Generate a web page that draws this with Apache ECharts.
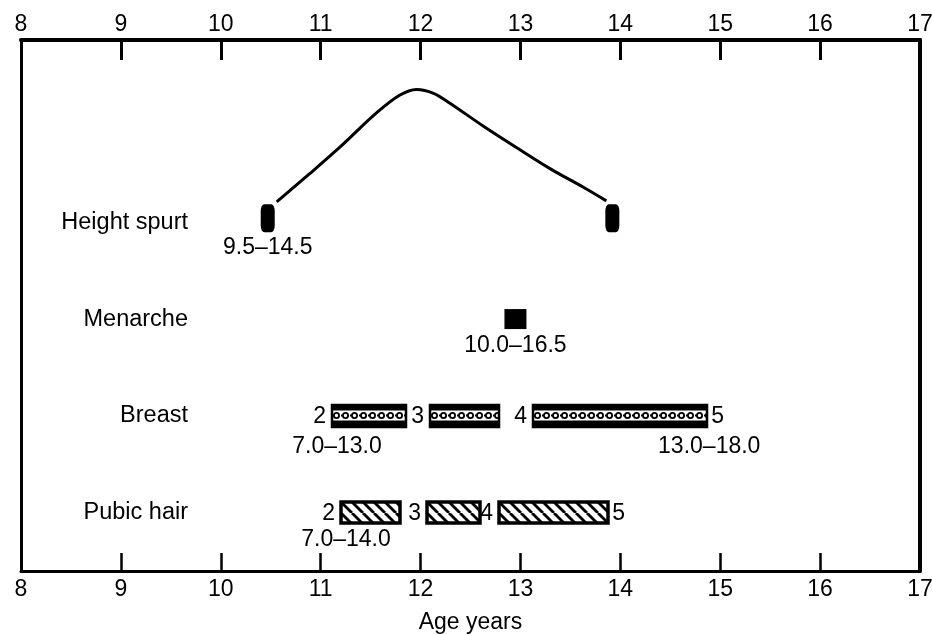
<!DOCTYPE html>
<html>
<head>
<meta charset="utf-8">
<script src="https://cdn.jsdelivr.net/npm/echarts@6/dist/echarts.min.js"></script>
<style>
html,body{margin:0;padding:0;background:#fff;}
#chart{width:932px;height:635px;}
</style>
</head>
<body>
<div id="chart"></div>
<script>
// ---------- data ----------
const xMin = 8, xMax = 17, xInterval = 1;           // age axis (years)
const axisTitle = 'Age years';
const rowNames = ['Pubic hair', 'Breast', 'Menarche', 'Height spurt']; // rows 1..4 (bottom to top)

// height spurt velocity curve (age, row-level)
const spurtCurve = [
  [10.56, 4.21], [10.89, 4.50], [11.22, 4.80], [11.55, 5.12], [11.79, 5.31],
  [11.96, 5.37], [12.13, 5.33], [12.29, 5.23], [12.63, 4.99], [12.96, 4.77],
  [13.30, 4.55], [13.63, 4.36], [13.86, 4.22]
];
const spurtMarkers = [[10.47, 4.04], [13.92, 4.04]];
const spurtRange = '9.5–14.5';

const menarchePoint = [12.95, 3.0];
const menarcheRange = '10.0–16.5';

const breastBars = [[11.11, 11.85], [12.09, 12.78], [13.13, 14.87]];
const breastStages = ['2', '3', '4', '5'];
const breastRanges = ['7.0–13.0', '13.0–18.0'];
const breastRow = 2;

const pubicBars = [[11.20, 11.79], [12.06, 12.59], [12.79, 13.88]];
const pubicStages = ['2', '3', '4', '5'];
const pubicRanges = ['7.0–14.0', ''];
const pubicRow = 1;

// ---------- styling helpers ----------
const FONT = 'Liberation Sans, Arial, Helvetica, sans-serif';
const FS = 23;

function dotsTile() {
  const c = document.createElement('canvas');
  c.width = 9; c.height = 22;
  const g = c.getContext('2d');
  g.fillStyle = '#000'; g.fillRect(0, 0, 9, 22);
  g.fillStyle = '#fff'; g.fillRect(0, 5.5, 9, 10);
  g.strokeStyle = '#000'; g.lineWidth = 1.8;
  g.beginPath(); g.arc(4.5, 10.5, 2.6, 0, Math.PI * 2); g.stroke();
  g.fillStyle = '#000';
  g.fillRect(0, 9.5, 1.5, 2);
  return c;
}
function hatchTile() {
  const c = document.createElement('canvas');
  c.width = 11; c.height = 11;
  const g = c.getContext('2d');
  g.fillStyle = '#fff'; g.fillRect(0, 0, 11, 11);
  g.strokeStyle = '#000'; g.lineWidth = 2.8;
  [-11, 0, 11].forEach(k => { g.beginPath(); g.moveTo(k, 0); g.lineTo(k + 11, 11); g.stroke(); });
  return c;
}
const dotsImg = dotsTile();
const hatchImg = hatchTile();

function makeBarRender(bars, stages, ranges, tileImg, barH, lw, rangeDy) {
  return function (params, api) {
    const i = params.dataIndex;
    const s = api.coord([api.value(0), api.value(2)]);
    const e = api.coord([api.value(1), api.value(2)]);
    const x = Math.round(s[0]), y = Math.round(s[1] - barH / 2), w = Math.round(e[0] - s[0]);
    const txt = (t, tx, ty, al) => ({
      type: 'text',
      style: { text: t, x: tx, y: ty, align: al, verticalAlign: 'middle', font: FS + 'px ' + FONT, fill: '#000' }
    });
    const children = [{
      type: 'rect',
      shape: { x: x, y: y, width: w, height: barH },
      style: {
        fill: { image: tileImg, repeat: 'repeat', x: x, y: y },
        stroke: '#000', lineWidth: lw
      }
    }, txt(stages[i], x - 6, s[1] + 1, 'right')];
    if (i === bars.length - 1) {
      children.push(txt(stages[i + 1], e[0] + 4, s[1] + 1, 'left'));
      if (ranges[1]) children.push(txt(ranges[1], e[0] + 2, s[1] + rangeDy, 'center'));
    }
    if (i === 0 && ranges[0]) children.push(txt(ranges[0], x + 5, s[1] + rangeDy, 'center'));
    return { type: 'group', children: children };
  };
}

const chart = echarts.init(document.getElementById('chart'), null, { renderer: 'canvas' });

const yMin = 0.4, yMax = 5.88;

const option = {
  animation: false,
  backgroundColor: '#fff',
  textStyle: { fontFamily: FONT, color: '#000' },
  grid: { left: 21, right: 12, top: 40, bottom: 64, containLabel: false, outerBoundsMode: 'none' },
  xAxis: [{
    type: 'value', position: 'bottom', min: xMin, max: xMax, interval: xInterval,
    axisLine: { show: true, lineStyle: { color: '#000', width: 3 } },
    axisTick: { show: true, inside: true, length: 18, lineStyle: { color: '#000', width: 2.5 } },
    axisLabel: { color: '#000', fontSize: FS, fontFamily: FONT, margin: 7 },
    splitLine: { show: false },
    name: axisTitle, nameLocation: 'middle', nameGap: 40,
    nameTextStyle: { color: '#000', fontSize: FS, fontFamily: FONT }
  }, {
    type: 'value', position: 'top', min: xMin, max: xMax, interval: xInterval,
    axisLine: { show: true, lineStyle: { color: '#000', width: 4 } },
    axisTick: { show: true, inside: true, length: 20, lineStyle: { color: '#000', width: 3 } },
    axisLabel: { color: '#000', fontSize: FS, fontFamily: FONT, margin: 4 },
    splitLine: { show: false }
  }],
  yAxis: [{
    type: 'value', position: 'left', min: yMin, max: yMax,
    axisLine: { show: true, lineStyle: { color: '#000', width: 3 } },
    axisTick: { show: false },
    splitLine: { show: false },
    axisLabel: {
      inside: true, align: 'right', margin: 167, color: '#000', fontSize: 23.5, fontFamily: FONT,
      formatter: function (v) {
        return (Math.abs(v - Math.round(v)) < 1e-6 && v >= 1 && v <= rowNames.length) ? rowNames[Math.round(v) - 1] : '';
      }
    }
  }, {
    type: 'value', position: 'right', min: yMin, max: yMax,
    axisLine: { show: true, lineStyle: { color: '#000', width: 4 } },
    axisTick: { show: false }, axisLabel: { show: false }, splitLine: { show: false }
  }],
  series: [{
    type: 'line', data: spurtCurve, smooth: 0.35, showSymbol: false, symbol: 'none',
    lineStyle: { color: '#000', width: 3 }, z: 3
  }, {
    type: 'scatter', data: spurtMarkers, symbol: 'roundRect', symbolSize: [14, 28],
    itemStyle: { color: '#000', opacity: 1 },
    label: { show: true, position: 'bottom', distance: 4, color: '#000', fontSize: FS, fontFamily: FONT,
             formatter: p => p.dataIndex === 0 ? spurtRange : '' }, z: 4
  }, {
    type: 'scatter', data: [menarchePoint], symbol: 'rect', symbolSize: [22, 20],
    itemStyle: { color: '#000', opacity: 1 },
    label: { show: true, position: 'bottom', distance: 5, color: '#000', fontSize: FS, fontFamily: FONT,
             formatter: () => menarcheRange }
  }, {
    type: 'custom',
    data: breastBars.map(b => [b[0], b[1], breastRow]),
    encode: { x: [0, 1], y: 2 },
    renderItem: makeBarRender(breastBars, breastStages, breastRanges, dotsImg, 22, 2.5, 31)
  }, {
    type: 'custom',
    data: pubicBars.map(b => [b[0], b[1], pubicRow]),
    encode: { x: [0, 1], y: 2 },
    renderItem: makeBarRender(pubicBars, pubicStages, pubicRanges, hatchImg, 21, 3.5, 27)
  }]
};
chart.setOption(option);
</script>
</body>
</html>
